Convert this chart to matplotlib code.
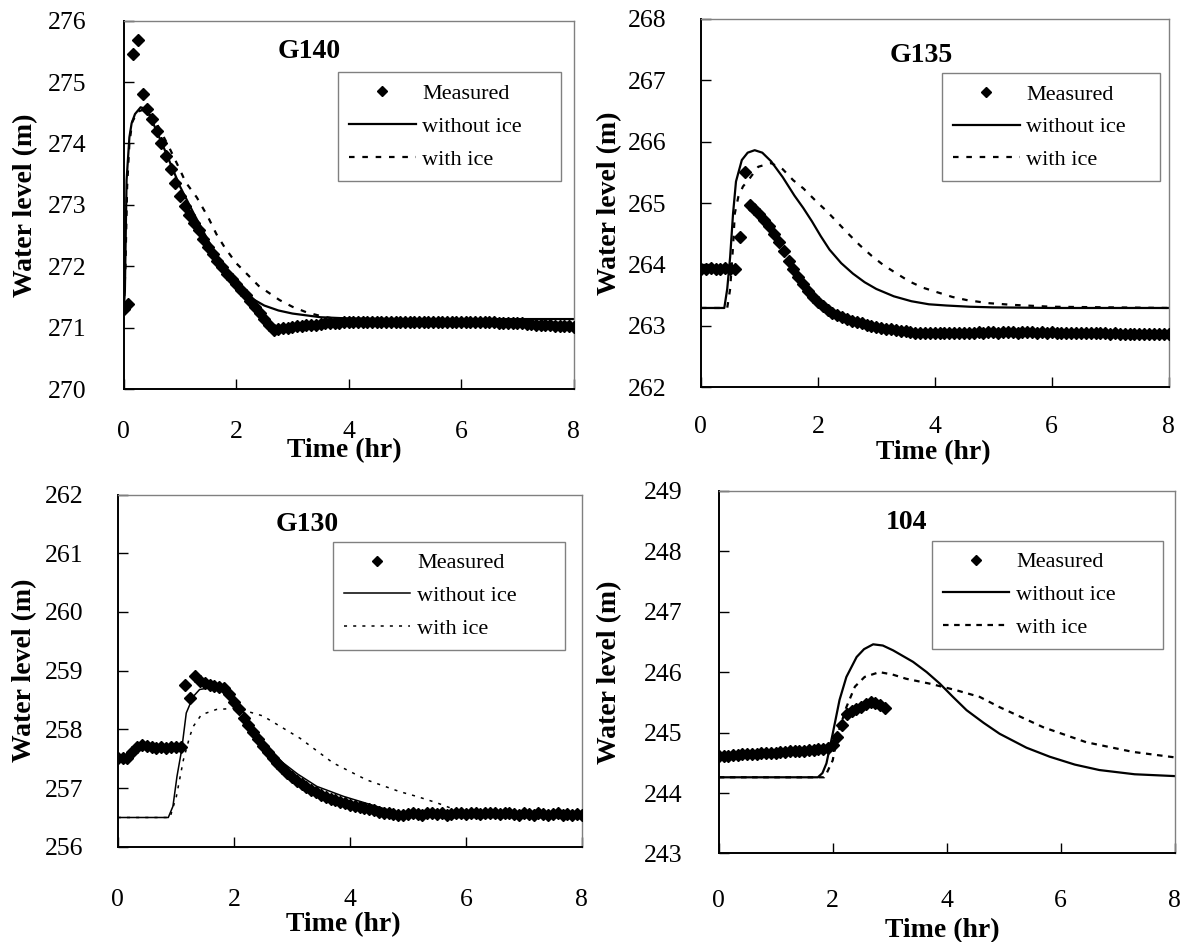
import numpy as np
import matplotlib
matplotlib.use("Agg")
import matplotlib.pyplot as plt
from matplotlib.lines import Line2D

plt.rcParams["font.family"] = ["Liberation Serif", "DejaVu Serif"]

STEP = 5 / 60  # measured data every 5 minutes

# ---------------- G140 ----------------
g140_meas = [271.30, 271.38, 275.46, 275.69, 274.80, 274.57, 274.40, 274.20, 274.00, 273.80,
             273.58, 273.35, 273.15, 272.98, 272.84, 272.71, 272.59, 272.45, 272.32, 272.20,
             272.08, 271.98, 271.88, 271.80, 271.71, 271.62, 271.53, 271.44, 271.34, 271.24,
             271.14, 271.05, 270.97, 270.98, 270.99, 271.00, 271.01, 271.02, 271.03, 271.04,
             271.05, 271.05, 271.06, 271.07, 271.07, 271.08, 271.08, 271.09, 271.09, 271.10,
             271.09, 271.10, 271.10, 271.09, 271.10, 271.10, 271.10, 271.09, 271.10, 271.10,
             271.10, 271.09, 271.10, 271.10, 271.09, 271.10, 271.10, 271.09, 271.10, 271.10,
             271.09, 271.10, 271.09, 271.10, 271.09, 271.09, 271.10, 271.09, 271.09, 271.09,
             271.08, 271.08, 271.08, 271.07, 271.07, 271.07, 271.06, 271.06, 271.05, 271.05,
             271.04, 271.04, 271.03, 271.03, 271.02, 271.02, 271.01]
g140_t_noice = [0, 0.02, 0.05, 0.1, 0.14, 0.2, 0.3, 0.4, 0.5, 0.75, 1.0, 1.25, 1.5, 1.75,
                2.0, 2.25, 2.5, 2.75, 3.0, 3.5, 4.0, 5.0, 6.0, 7.0, 8.0]
g140_noice = [271.30, 271.60, 273.40, 274.10, 274.33, 274.48, 274.59, 274.56, 274.38, 273.85,
              273.30, 272.85, 272.42, 272.03, 271.72, 271.49, 271.36, 271.28, 271.23, 271.17,
              271.15, 271.14, 271.14, 271.14, 271.14]
g140_t_ice = [0, 0.03, 0.06, 0.1, 0.15, 0.25, 0.35, 0.45, 0.6, 0.8, 1.0, 1.1, 1.3, 1.5, 1.65,
              1.8, 2.0, 2.12, 2.4, 2.77, 3.0, 3.25, 3.5, 3.72, 4.0, 5.0, 6.0, 8.0]
g140_ice = [271.30, 272.00, 273.30, 274.00, 274.35, 274.52, 274.55, 274.50, 274.30, 273.95,
            273.57, 273.37, 273.12, 272.80, 272.52, 272.30, 272.05, 271.94, 271.68, 271.45,
            271.34, 271.25, 271.19, 271.15, 271.12, 271.10, 271.09, 271.08]

# ---------------- G135 ----------------
g135_meas = [263.93, 263.93, 263.94, 263.93, 263.93, 263.94, 263.93, 263.93, 264.45, 265.51,
             264.97, 264.90, 264.82, 264.73, 264.62, 264.50, 264.36, 264.21, 264.06, 263.93,
             263.80, 263.68, 263.57, 263.47, 263.39, 263.32, 263.26, 263.21, 263.17, 263.14,
             263.11, 263.08, 263.06, 263.04, 263.02, 263.00, 262.98, 262.97, 262.95, 262.94,
             262.93, 262.92, 262.91, 262.90, 262.89, 262.88, 262.88, 262.88, 262.88, 262.88,
             262.88, 262.88, 262.89, 262.88, 262.89, 262.89, 262.89, 262.90, 262.89, 262.90,
             262.90, 262.89, 262.90, 262.90, 262.90, 262.89, 262.90, 262.90, 262.90, 262.89,
             262.90, 262.89, 262.90, 262.89, 262.89, 262.89, 262.89, 262.88, 262.89, 262.88,
             262.88, 262.88, 262.88, 262.88, 262.87, 262.88, 262.87, 262.87, 262.87, 262.87,
             262.86, 262.87, 262.86, 262.86, 262.86, 262.86, 262.86]
g135_t_noice = [0, 0.4, 0.45, 0.5, 0.55, 0.6, 0.7, 0.8, 0.92, 1.05, 1.2, 1.4, 1.6, 1.75,
                1.9, 2.05, 2.2, 2.4, 2.6, 2.8, 3.0, 3.3, 3.6, 3.9, 4.2, 4.6, 5.0, 6.0, 8.0]
g135_noice = [263.29, 263.29, 263.60, 264.12, 264.83, 265.35, 265.70, 265.82, 265.86, 265.82,
              265.68, 265.42, 265.12, 264.92, 264.70, 264.46, 264.24, 264.02, 263.85, 263.71,
              263.60, 263.48, 263.40, 263.35, 263.33, 263.31, 263.30, 263.29, 263.29]
g135_t_ice = [0, 0.45, 0.5, 0.55, 0.58, 0.64, 0.72, 0.81, 0.98, 1.2, 1.4, 1.58, 1.75, 1.98,
              2.15, 2.32, 2.52, 2.72, 2.92, 3.12, 3.35, 3.57, 3.8, 4.03, 4.3, 4.54, 4.9,
              5.34, 6.0, 8.0]
g135_ice = [263.29, 263.29, 263.60, 264.30, 264.83, 265.10, 265.27, 265.37, 265.59, 265.65,
            265.55, 265.37, 265.24, 265.02, 264.87, 264.70, 264.50, 264.31, 264.14, 263.99,
            263.85, 263.72, 263.62, 263.55, 263.47, 263.42, 263.37, 263.34, 263.31, 263.29]

# ---------------- G130 ----------------
g130_meas = [257.52, 257.52, 257.52, 257.62, 257.70, 257.74, 257.71, 257.70, 257.69, 257.70,
             257.69, 257.70, 257.70, 257.70, 258.76, 258.53, 258.91, 258.83, 258.79, 258.76,
             258.74, 258.73, 258.70, 258.60, 258.47, 258.34, 258.20, 258.08, 257.95, 257.83,
             257.72, 257.62, 257.52, 257.43, 257.34, 257.26, 257.19, 257.13, 257.07, 257.02,
             256.97, 256.93, 256.89, 256.85, 256.82, 256.79, 256.76, 256.74, 256.72, 256.70,
             256.68, 256.67, 256.65, 256.63, 256.60, 256.58, 256.57, 256.56, 256.55, 256.55,
             256.56, 256.57, 256.56, 256.55, 256.57, 256.58, 256.56, 256.57, 256.55, 256.56,
             256.58, 256.57, 256.56, 256.57, 256.58, 256.56, 256.57, 256.58, 256.57, 256.56,
             256.58, 256.57, 256.56, 256.55, 256.57, 256.56, 256.55, 256.57, 256.56, 256.55,
             256.56, 256.57, 256.55, 256.56, 256.55, 256.56, 256.55]
g130_t_noice = [0, 0.87, 0.95, 1.02, 1.1, 1.18, 1.3, 1.41, 1.59, 1.76, 1.9, 2.05, 2.2, 2.39,
                2.6, 2.85, 3.1, 3.43, 3.89, 4.29, 4.86, 5.3, 5.8, 8.0]
g130_noice = [256.50, 256.50, 256.69, 257.20, 257.65, 258.28, 258.56, 258.68, 258.71, 258.68,
              258.58, 258.45, 258.23, 257.94, 257.68, 257.43, 257.24, 257.03, 256.86, 256.74,
              256.57, 256.52, 256.50, 256.50]
g130_t_ice = [0, 0.9, 1.01, 1.13, 1.24, 1.3, 1.44, 1.7, 2.05, 2.5, 3.14, 3.71, 4.29, 4.86,
              5.15, 5.5, 5.9, 6.2, 8.0]
g130_ice = [256.50, 256.50, 256.86, 257.48, 257.88, 258.05, 258.25, 258.34, 258.36, 258.23,
            257.85, 257.43, 257.14, 256.94, 256.86, 256.75, 256.60, 256.52, 256.50]

# ---------------- 104 ----------------
s104_meas = [244.61, 244.62, 244.62, 244.63, 244.63, 244.64, 244.64, 244.65, 244.65, 244.66,
             244.66, 244.67, 244.67, 244.68, 244.68, 244.69, 244.69, 244.70, 244.70, 244.71,
             244.71, 244.72, 244.73, 244.74, 244.79, 244.92, 245.12, 245.31, 245.36, 245.39,
             245.42, 245.47, 245.51, 245.49, 245.46, 245.40]
s104_t_noice = [0, 1.74, 1.82, 1.89, 2.0, 2.12, 2.24, 2.42, 2.55, 2.71, 2.88, 3.06, 3.41,
                3.65, 3.88, 4.1, 4.35, 4.65, 4.93, 5.4, 5.81, 6.25, 6.68, 7.3, 8.0]
s104_noice = [244.26, 244.26, 244.33, 244.49, 244.98, 245.54, 245.92, 246.25, 246.38, 246.46,
              246.44, 246.36, 246.17, 246.00, 245.81, 245.60, 245.37, 245.16, 244.98, 244.75,
              244.60, 244.47, 244.38, 244.31, 244.28]
s104_t_ice = [0, 1.85, 1.89, 2.0, 2.09, 2.24, 2.39, 2.56, 2.82, 3.05, 3.29, 3.70, 4.17, 4.58,
              4.93, 5.69, 6.45, 7.27, 8.0]
s104_ice = [244.26, 244.26, 244.32, 244.54, 244.98, 245.42, 245.76, 245.92, 246.00, 245.96,
            245.89, 245.81, 245.70, 245.59, 245.42, 245.09, 244.84, 244.68, 244.59]

panels = [
    dict(name="G140", rect=[0.104, 0.587, 0.378, 0.391], ylim=(270, 276), meas=g140_meas,
         noice=(g140_t_noice, g140_noice), ice=(g140_t_ice, g140_ice),
         title_xy=(0.413, 0.916), leg=(0.476, 0.56, 0.495, 0.30), xlab=(0.491, -0.166),
         ylab_x=-0.218, xpad=23, ypad=27, lw=1.6, ice_dash=(2.5, 3.5)),
    dict(name="G135", rect=[0.589, 0.589, 0.393, 0.391], ylim=(262, 268), meas=g135_meas,
         noice=(g135_t_noice, g135_noice), ice=(g135_t_ice, g135_ice),
         title_xy=(0.472, 0.90), leg=(0.515, 0.57, 0.466, 0.283), xlab=(0.498, -0.177),
         ylab_x=-0.195, xpad=21, ypad=25, lw=1.6, ice_dash=(2.5, 3.5)),
    dict(name="G130", rect=[0.099, 0.101, 0.390, 0.374], ylim=(256, 262), meas=g130_meas,
         noice=(g130_t_noice, g130_noice), ice=(g130_t_ice, g130_ice),
         title_xy=(0.409, 0.915), leg=(0.463, 0.56, 0.50, 0.306), xlab=(0.485, -0.222),
         ylab_x=-0.200, xpad=30, ypad=25, lw=1.1, ice_dash=(2.0, 4.0)),
    dict(name="104", rect=[0.604, 0.094, 0.383, 0.385], ylim=(243, 249), meas=s104_meas,
         noice=(s104_t_noice, s104_noice), ice=(s104_t_ice, s104_ice),
         title_xy=(0.412, 0.912), leg=(0.467, 0.56, 0.507, 0.302), xlab=(0.491, -0.213),
         ylab_x=-0.240, xpad=26, ypad=26, lw=1.6, ice_dash=(2.5, 2.5)),
]

fig = plt.figure(figsize=(11.9, 9.42), dpi=100)

for p in panels:
    ax = fig.add_axes(p["rect"])
    t_meas = np.arange(len(p["meas"])) * STEP
    ax.plot(t_meas, p["meas"], ls="none", marker="D", ms=6, color="black", zorder=3)
    ax.plot(p["noice"][0], p["noice"][1], color="black", lw=p["lw"], zorder=2)
    ax.plot(p["ice"][0], p["ice"][1], color="black", lw=p["lw"], ls=(0, p["ice_dash"]), zorder=2)

    ax.set_xlim(0, 8)
    ax.set_ylim(*p["ylim"])
    ax.set_xticks([0, 2, 4, 6, 8])
    ax.set_yticks(np.arange(p["ylim"][0], p["ylim"][1] + 1))
    ax.tick_params(direction="in", length=7, width=1, labelsize=18.5)
    ax.tick_params(axis="x", pad=p["xpad"])
    ax.tick_params(axis="y", pad=p["ypad"])
    for s in ("left", "bottom"):
        ax.spines[s].set_linewidth(1.4)
        ax.spines[s].set_color("black")
    for s in ("top", "right"):
        ax.spines[s].set_linewidth(1.0)
        ax.spines[s].set_color("#808080")

    ax.set_xlabel("Time (hr)", fontsize=20, fontweight="bold", va="center")
    ax.xaxis.set_label_coords(*p["xlab"])
    ax.set_ylabel("Water level (m)", fontsize=20, fontweight="bold", va="center")
    ax.yaxis.set_label_coords(p["ylab_x"], 0.5)

    ax.text(*p["title_xy"], p["name"], transform=ax.transAxes, ha="center", va="center",
            fontsize=20, fontweight="bold")

    handles = [
        Line2D([], [], ls="none", marker="D", ms=5, color="black"),
        Line2D([], [], color="black", lw=p["lw"]),
        Line2D([], [], color="black", lw=p["lw"], ls=(0, p["ice_dash"])),
    ]
    leg = ax.legend(handles, ["Measured", "without ice", "with ice"], loc="upper left",
                    bbox_to_anchor=p["leg"], mode="expand", borderaxespad=0, fontsize=16,
                    fancybox=False, edgecolor="#808080", framealpha=1, borderpad=0.5,
                    labelspacing=0.55, handlelength=3.0, handletextpad=0.3, numpoints=1)
    leg.get_frame().set_linewidth(1.0)

fig.savefig("out.png", dpi=100, facecolor="white")
